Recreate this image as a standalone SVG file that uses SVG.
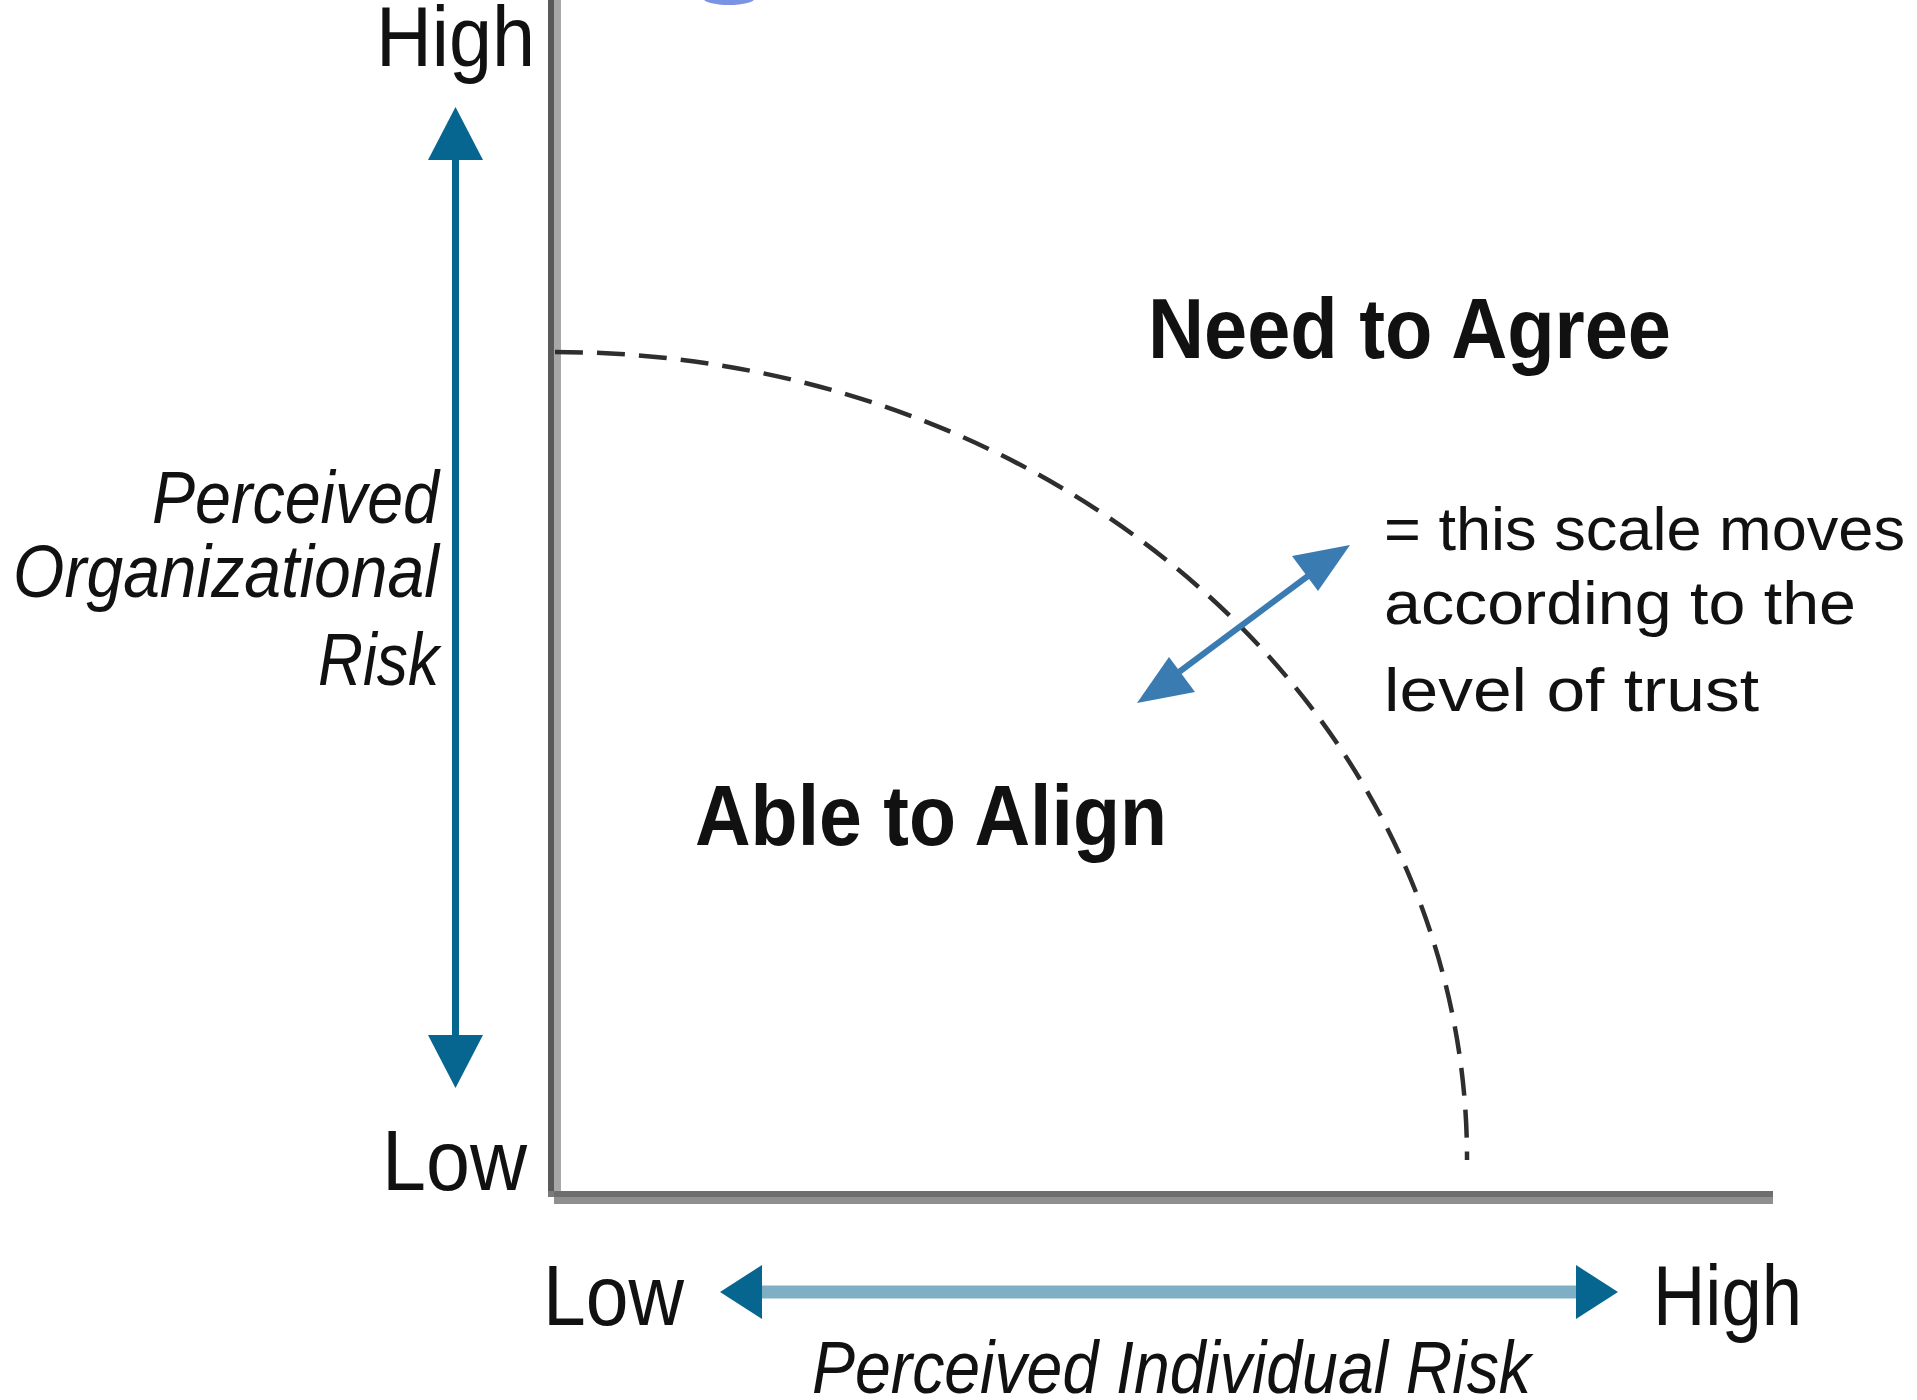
<svg xmlns="http://www.w3.org/2000/svg" width="1917" height="1400" viewBox="0 0 1917 1400">
  <style>
    .t { font-family: "Liberation Sans", Arial, sans-serif; fill: #111; }
    .big { font-size: 86px; }
    .bold { font-size: 86px; font-weight: bold; }
    .it { font-size: 74px; font-style: italic; }
    .note { font-size: 62px; }
    .axisDark { fill: #5a5a5a; }
    .axisLight { fill: #a8a8a8; }
    .dark { fill: #066690; }
    .mid { fill: #3a7bb2; }
  </style>
  <rect width="1917" height="1400" fill="#ffffff"/>

  <ellipse cx="729" cy="-2" rx="26" ry="7" fill="#7b93e4"/>

  <g id="axes">
    <rect x="548" y="0" width="6" height="1197" class="axisDark"/>
    <rect x="554" y="0" width="7" height="1191" class="axisLight"/>
    <rect x="548" y="1191" width="6" height="6" fill="#7a7a7a"/>
    <rect x="554" y="1191" width="1219" height="6" fill="#6e6e6e"/>
    <rect x="554" y="1197" width="1219" height="7" fill="#8f8f8f"/>
  </g>

  <g id="connectors">
    <path id="trust-boundary" d="M 555 352 A 912 806 0 0 1 1467 1160" fill="none" stroke="#2e2e2e" stroke-width="4.5" stroke-dasharray="28 14"/>

    <g id="org-risk-arrow">
      <rect x="452" y="150" width="7" height="895" class="dark"/>
      <polygon points="455.5,107 483,160 428,160" class="dark"/>
      <polygon points="455.5,1088 483,1035 428,1035" class="dark"/>
    </g>

    <g id="ind-risk-arrow">
      <rect x="755" y="1285.5" width="828" height="13" fill="#7fafc4"/>
      <polygon points="720,1292 762,1265 762,1319" class="dark"/>
      <polygon points="1618,1292 1576,1265 1576,1319" class="dark"/>
    </g>

    <g id="scale-arrow">
      <line x1="1312" y1="573" x2="1175" y2="675" stroke="#3a7bb2" stroke-width="6"/>
      <polygon points="1350,545 1292,556 1318,591" class="mid"/>
      <polygon points="1137,703 1195,692 1169,657" class="mid"/>
    </g>
  </g>

  <g id="axis-labels">
    <text class="t big" x="376" y="66" textLength="159" lengthAdjust="spacingAndGlyphs">High</text>
    <text class="t big" x="382" y="1190" textLength="145" lengthAdjust="spacingAndGlyphs">Low</text>
    <text class="t big" x="543" y="1325" textLength="141" lengthAdjust="spacingAndGlyphs">Low</text>
    <text class="t big" x="1653" y="1325" textLength="149" lengthAdjust="spacingAndGlyphs">High</text>
  </g>

  <g id="x-title">
    <text class="t it" x="812" y="1393" textLength="719" lengthAdjust="spacingAndGlyphs">Perceived Individual Risk</text>
  </g>

  <g id="y-title">
    <text class="t it" x="152" y="523" textLength="287" lengthAdjust="spacingAndGlyphs">Perceived</text>
    <text class="t it" x="13" y="597" textLength="426" lengthAdjust="spacingAndGlyphs">Organizational</text>
    <text class="t it" x="318" y="685" textLength="121" lengthAdjust="spacingAndGlyphs">Risk</text>
  </g>

  <g id="need-to-agree">
    <text class="t bold" x="1148" y="358" textLength="523" lengthAdjust="spacingAndGlyphs">Need to Agree</text>
  </g>

  <g id="able-to-align">
    <text class="t bold" x="695" y="845" textLength="472" lengthAdjust="spacingAndGlyphs">Able to Align</text>
  </g>

  <g id="scale-note">
    <text class="t note" x="1384" y="550" textLength="521" lengthAdjust="spacingAndGlyphs">= this scale moves</text>
    <text class="t note" x="1384" y="624" textLength="472" lengthAdjust="spacingAndGlyphs">according to the</text>
    <text class="t note" x="1384" y="711" textLength="375" lengthAdjust="spacingAndGlyphs">level of trust</text>
  </g>
</svg>
